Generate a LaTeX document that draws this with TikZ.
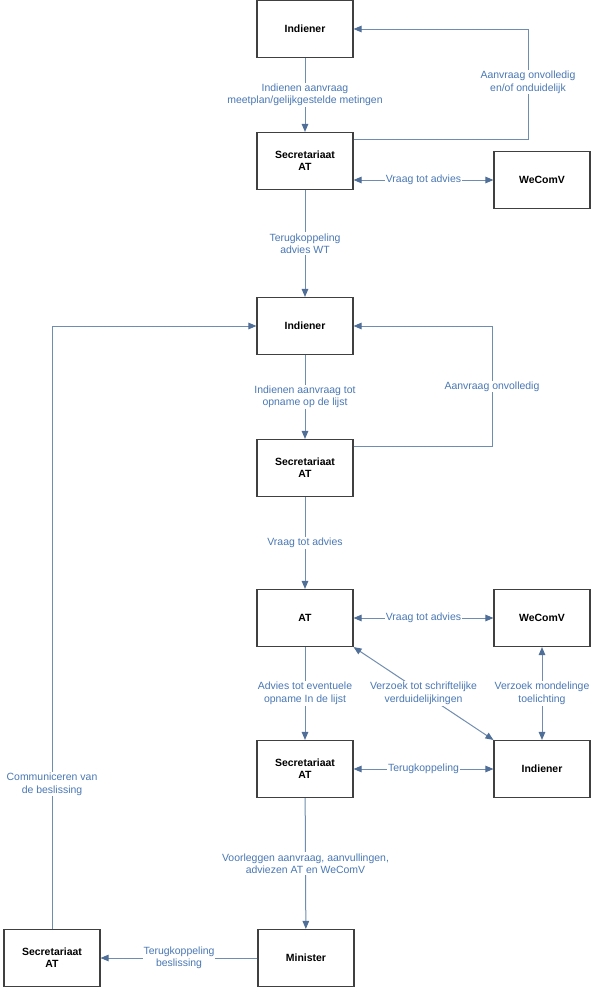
\documentclass[tikz,border=0pt]{standalone}
\usepackage{fontspec}
\setmainfont{Liberation Sans}
\usetikzlibrary{arrows.meta}
\definecolor{boxline}{RGB}{64,64,64}
\definecolor{connline}{RGB}{112,140,176}
\definecolor{tipblue}{RGB}{79,111,153}
\definecolor{lbltext}{RGB}{74,120,180}
\tikzset{
  actor/.style={draw=boxline, line width=1.1bp, fill=white, minimum width=96bp, minimum height=57bp, align=center, font=\fontsize{10.5}{12}\selectfont\bfseries},
  conn/.style={draw=connline, line width=1bp, -{Triangle[length=8bp,width=6.5bp,color=tipblue]}},
  twoway/.style={conn, {Triangle[length=8bp,width=6.5bp,color=tipblue]}-{Triangle[length=8bp,width=6.5bp,color=tipblue]}},
  lbl/.style={fill=white, text=lbltext, inner sep=1bp, align=center, font=\fontsize{10.5}{12.5}\selectfont}
}
\begin{document}
\begin{tikzpicture}[x=1bp, y=-1bp]
\useasboundingbox (0,0) rectangle (597,988);
\node[actor] (ind1) at (305,29) {Indiener};
\node[actor] (sec1) at (305,161) {Secretariaat\\AT};
\node[actor] (wec1) at (542,180) {WeComV};
\node[actor] (ind2) at (305,326) {Indiener};
\node[actor] (sec2) at (305,468) {Secretariaat\\AT};
\node[actor] (at) at (305,618) {AT};
\node[actor] (wec2) at (542,618) {WeComV};
\node[actor] (sec3) at (305,769) {Secretariaat\\AT};
\node[actor] (ind3) at (542,769) {Indiener};
\node[actor] (min) at (306,958) {Minister};
\node[actor] (sec4) at (52,958) {Secretariaat\\AT};
\coordinate (fb1) at (528,29);
\coordinate (fb2) at (492,326);
\draw[conn] (ind1) -- node[lbl] {Indienen aanvraag\\meetplan/gelijkgestelde metingen} (sec1);
\draw[conn] ([yshift=-8bp]sec1.north east) -| node[lbl, pos=0.76] {Aanvraag onvolledig\\en/of onduidelijk} (fb1) -- (ind1.east);
\draw[twoway] (sec1.east |- wec1.west) -- node[lbl] {Vraag tot advies} (wec1.west);
\draw[conn] (sec1) -- node[lbl] {Terugkoppeling\\advies WT} (ind2);
\draw[conn] (ind2) -- node[lbl] {Indienen aanvraag tot\\opname op de lijst} (sec2);
\draw[conn] ([yshift=-8bp]sec2.north east) -| node[lbl, pos=0.75] {Aanvraag onvolledig} (fb2) -- (ind2.east);
\draw[conn] (sec2) -- node[lbl] {Vraag tot advies} (at);
\draw[twoway] (at) -- node[lbl] {Vraag tot advies} (wec2);
\draw[conn] (at) -- node[lbl] {Advies tot eventuele\\opname In de lijst} (sec3);
\draw[twoway] (at.south east) -- node[lbl] {Verzoek tot schriftelijke\\verduidelijkingen} (ind3.north west);
\draw[twoway] (wec2) -- node[lbl] {Verzoek mondelinge\\toelichting} (ind3);
\draw[twoway] (sec3) -- node[lbl] {Terugkoppeling} (ind3);
\draw[conn] (sec3) -- node[lbl] {Voorleggen aanvraag, aanvullingen,\\adviezen AT en WeComV} (min);
\draw[conn] (min) -- node[lbl] {Terugkoppeling\\beslissing} (sec4);
\draw[conn] (sec4) |- node[lbl, pos=0.12] {Communiceren van\\de beslissing} (ind2);
\end{tikzpicture}
\end{document}
